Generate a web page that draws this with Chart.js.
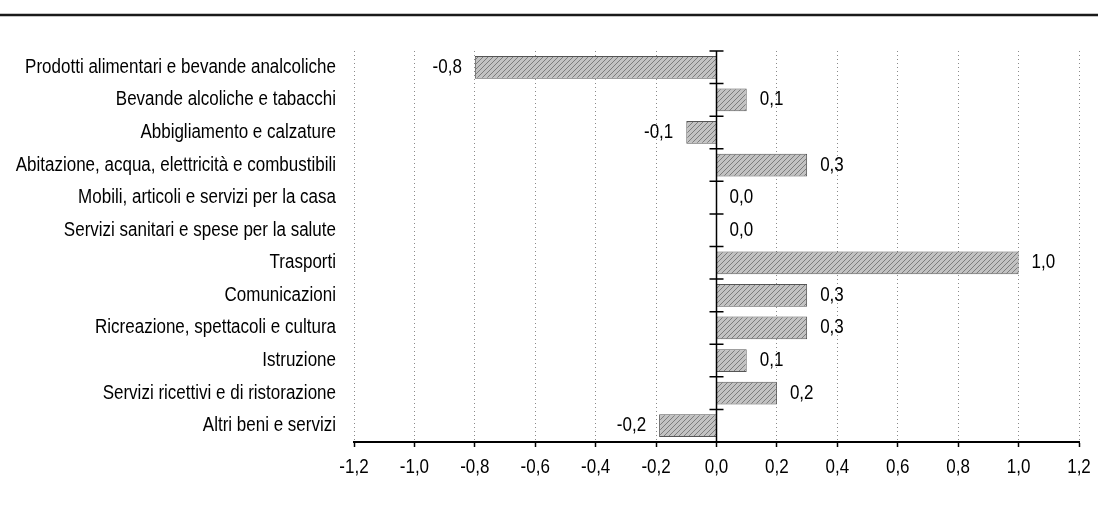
<!DOCTYPE html>
<html>
<head>
<meta charset="utf-8">
<script src="https://cdn.jsdelivr.net/npm/chart.js@4"></script>
<style>
  html, body { margin: 0; background: #fff; }
  #wrap { position: relative; width: 1098px; height: 506px; }
</style>
</head>
<body>
<div id="wrap"><canvas id="chart"></canvas></div>
<script>
// categorie di spesa
const categories = [
  'Prodotti alimentari e bevande analcoliche',
  'Bevande alcoliche e tabacchi',
  'Abbigliamento e calzature',
  'Abitazione, acqua, elettricità e combustibili',
  'Mobili, articoli e servizi per la casa',
  'Servizi sanitari e spese per la salute',
  'Trasporti',
  'Comunicazioni',
  'Ricreazione, spettacoli e cultura',
  'Istruzione',
  'Servizi ricettivi e di ristorazione',
  'Altri beni e servizi'
];
// valori
const values = [-0.8, 0.1, -0.1, 0.3, 0.0, 0.0, 1.0, 0.3, 0.3, 0.1, 0.2, -0.19];
// tacche asse x
const xTicks = [-1.2, -1.0, -0.8, -0.6, -0.4, -0.2, 0.0, 0.2, 0.4, 0.6, 0.8, 1.0, 1.2];

const FONT = "20px 'Liberation Sans', Arial, sans-serif";
const SX = 0.85; // testo "narrow"
const fmt = v => v.toFixed(1).replace('.', ',').replace('-0,0', '0,0');

// tratteggio grigio delle barre
function hatch() {
  const c = document.createElement('canvas');
  c.width = 5; c.height = 5;
  const g = c.getContext('2d');
  g.fillStyle = '#c2c2c2';
  g.fillRect(0, 0, 5, 5);
  g.strokeStyle = '#7c7c7c';
  g.lineWidth = 1;
  g.beginPath();
  g.moveTo(0, 5); g.lineTo(5, 0);
  g.moveTo(-3, 3); g.lineTo(3, -3);
  g.moveTo(3, 8); g.lineTo(8, 3);
  g.stroke();
  return g.createPattern(c, 'repeat');
}

function text(ctx, s, x, y, align) {
  ctx.save();
  ctx.scale(SX, 1);
  ctx.textAlign = align;
  ctx.fillText(s, x / SX, y);
  ctx.restore();
}

// linea in alto, asse dello zero, testi
const extras = {
  id: 'extras',
  beforeDraw(chart) {
    const ctx = chart.ctx;
    ctx.save();
    ctx.strokeStyle = '#1a1a1a';
    ctx.lineWidth = 2.5;
    ctx.beginPath();
    ctx.moveTo(0, 15);
    ctx.lineTo(chart.width, 15);
    ctx.stroke();
    ctx.restore();
  },
  afterDatasetsDraw(chart) {
    const ctx = chart.ctx;
    const x = chart.scales.x, y = chart.scales.y;
    const area = chart.chartArea;
    const x0 = x.getPixelForValue(0);
    const band = y.getPixelForValue(1) - y.getPixelForValue(0);
    ctx.save();
    ctx.strokeStyle = '#000';
    ctx.lineWidth = 1.5;
    ctx.beginPath();
    ctx.moveTo(x0, area.top);
    ctx.lineTo(x0, area.bottom);
    for (let i = 0; i <= categories.length; i++) {
      const yy = y.getPixelForValue(0) - band / 2 + i * band;
      ctx.moveTo(x0 - 7, yy);
      ctx.lineTo(x0 + 7, yy);
    }
    ctx.stroke();

    ctx.font = FONT;
    ctx.fillStyle = '#000';
    ctx.textBaseline = 'middle';
    // etichette categorie
    categories.forEach((c, i) => text(ctx, c, area.left - 18, y.getPixelForValue(i), 'right'));
    // etichette asse x
    x.ticks.forEach(t => text(ctx, fmt(t.value), x.getPixelForValue(t.value), area.bottom + 25, 'center'));
    // valori
    chart.getDatasetMeta(0).data.forEach((bar, i) => {
      const v = values[i];
      if (v < 0) text(ctx, fmt(v), bar.x - 13, bar.y, 'right');
      else text(ctx, fmt(v), bar.x + 13, bar.y, 'left');
    });
    ctx.restore();
  }
};

new Chart(document.getElementById('chart'), {
  type: 'bar',
  data: {
    labels: categories,
    datasets: [{
      data: values,
      backgroundColor: hatch(),
      borderColor: '#555',
      borderWidth: 1,
      barPercentage: 0.7,
      categoryPercentage: 1
    }]
  },
  options: {
    indexAxis: 'y',
    responsive: true,
    maintainAspectRatio: false,
    animation: false,
    layout: { padding: { top: 51, right: 19, bottom: 24, left: 0 } },
    plugins: { legend: { display: false }, tooltip: { enabled: false } },
    scales: {
      x: {
        min: -1.2,
        max: 1.2,
        afterBuildTicks: s => { s.ticks = xTicks.map(v => ({ value: v })); },
        afterFit: s => { s.height = 40; },
        grid: {
          color: c => (c.tick && c.tick.value === 0) ? 'rgba(0,0,0,0)' : '#8a8a8a',
          tickColor: '#000',
          tickLength: 5,
          tickWidth: 1.5
        },
        border: { color: '#000', width: 2, dash: [1, 3] },
        ticks: { display: false }
      },
      y: {
        afterFit: s => { s.width = 354; },
        grid: { display: false },
        border: { display: false },
        ticks: { display: false }
      }
    }
  },
  plugins: [extras]
});
</script>
</body>
</html>
